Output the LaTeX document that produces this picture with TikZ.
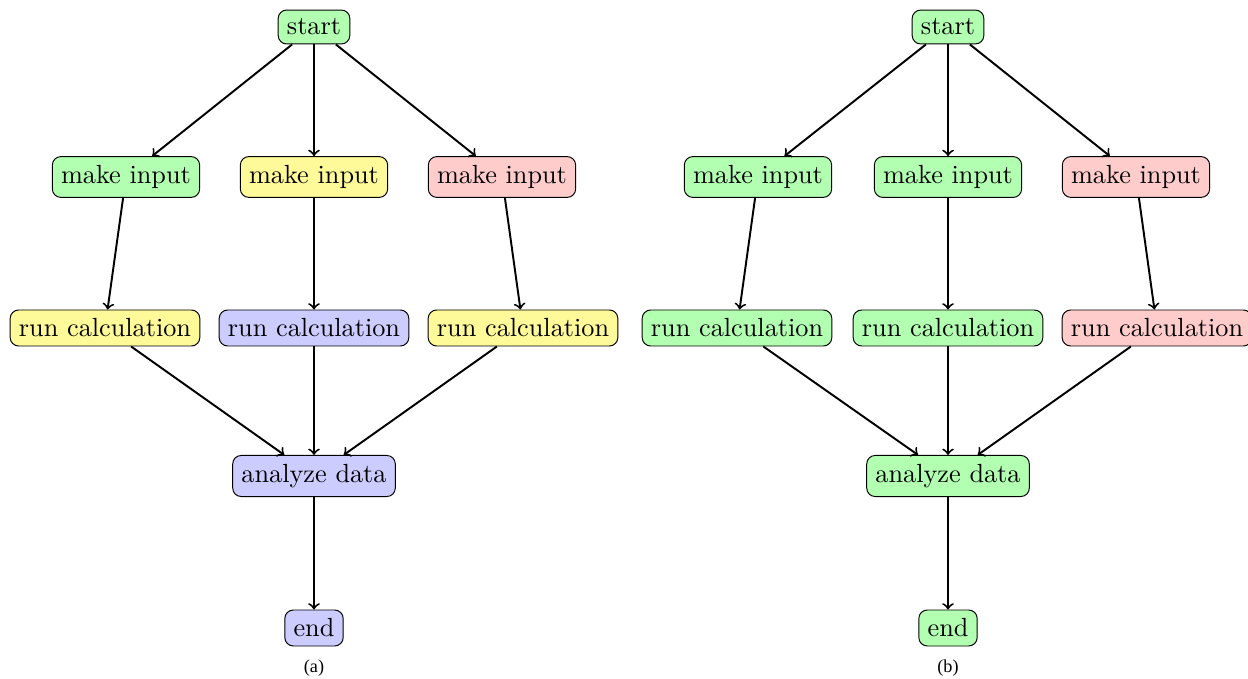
\documentclass[tikz,border=0pt]{standalone}
\usepackage{fontspec}
\newfontfamily\capfont{Liberation Serif}
\begin{document}
\begin{tikzpicture}[x=0.4115pt,y=-0.4115pt,
  box/.style={draw, rounded corners=3.5pt, inner sep=3.6pt, font=\fontsize{10.8}{13}\selectfont},
  gbox/.style={box, fill=green!30},
  ybox/.style={box, fill=yellow!40},
  bbox/.style={box, fill=blue!20},
  rbox/.style={box, fill=red!20},
  conn/.style={->, thick},
  captext/.style={font=\capfont\fontsize{7.5}{9}\selectfont}]
\useasboundingbox (0,0) rectangle (1248,679);
% (a)
\node[gbox] (as) at (314,27) {start};
\node[gbox] (am1) at (126,177) {make input};
\node[ybox] (am2) at (314,177) {make input};
\node[rbox] (am3) at (502,177) {make input};
\node[ybox] (ar1) at (105,328) {run calculation};
\node[bbox] (ar2) at (314,328) {run calculation};
\node[ybox] (ar3) at (523,328) {run calculation};
\node[bbox] (aa) at (314,476) {analyze data};
\node[bbox] (ae) at (314,628) {end};
\node[captext] (acap) at (314,668) {(a)};
\draw[conn] (as) -- (am1);
\draw[conn] (as) -- (am2);
\draw[conn] (as) -- (am3);
\draw[conn] (am1) -- (ar1);
\draw[conn] (am2) -- (ar2);
\draw[conn] (am3) -- (ar3);
\draw[conn] (ar1) -- (aa);
\draw[conn] (ar2) -- (aa);
\draw[conn] (ar3) -- (aa);
\draw[conn] (aa) -- (ae);
% (b)
\node[gbox] (bs) at (948,27) {start};
\node[gbox] (bm1) at (758,177) {make input};
\node[gbox] (bm2) at (948,177) {make input};
\node[rbox] (bm3) at (1136,177) {make input};
\node[gbox] (br1) at (737,328) {run calculation};
\node[gbox] (br2) at (948,328) {run calculation};
\node[rbox] (br3) at (1157,328) {run calculation};
\node[gbox] (ba) at (948,476) {analyze data};
\node[gbox] (be) at (948,628) {end};
\node[captext] (bcap) at (948,668) {(b)};
\draw[conn] (bs) -- (bm1);
\draw[conn] (bs) -- (bm2);
\draw[conn] (bs) -- (bm3);
\draw[conn] (bm1) -- (br1);
\draw[conn] (bm2) -- (br2);
\draw[conn] (bm3) -- (br3);
\draw[conn] (br1) -- (ba);
\draw[conn] (br2) -- (ba);
\draw[conn] (br3) -- (ba);
\draw[conn] (ba) -- (be);
\end{tikzpicture}
\end{document}
